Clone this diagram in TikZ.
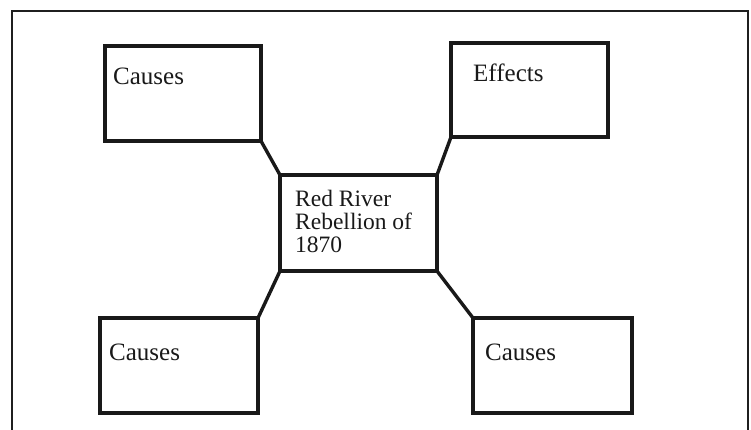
\documentclass[tikz,border=0pt]{standalone}
\usepackage{fontspec}
\setmainfont{Liberation Serif}
\begin{document}
\begin{tikzpicture}[x=1pt,y=-1pt,
  frame/.style={draw=black!88,line width=2.4pt},
  box/.style={draw=black!90,line width=4pt,rectangle,inner sep=0pt,outer sep=0pt,anchor=north west},
  link/.style={draw=black!90,line width=3.4pt},
  lbl/.style={inner sep=0pt,anchor=base west,text=black!90,font=\fontsize{25}{25}\selectfont},
  clbl/.style={inner sep=0pt,anchor=north west,text=black!90,align=left,font=\fontsize{23.5}{23}\selectfont}]
\useasboundingbox (0,0) rectangle (751,429);
% open frame around the page
\coordinate (fbl) at (12,432);
\coordinate (ftl) at (12,11);
\coordinate (ftr) at (748,11);
\coordinate (fbr) at (748,432);
\draw[frame] (fbl) -- (ftl) -- (ftr) -- (fbr);
% boxes
\node[box,minimum width=156,minimum height=95] (tl) at (105,46) {};
\node[box,minimum width=157,minimum height=94] (tr) at (451,43) {};
\node[box,minimum width=157,minimum height=96] (c) at (280,175) {};
\node[box,minimum width=158,minimum height=95] (bl) at (100,318) {};
\node[box,minimum width=159,minimum height=95] (br) at (473,318) {};
% labels
\node[lbl] (tlt) at (113,84) {Causes};
\node[lbl] (trt) at (473,81) {Effects};
\node[clbl] (ct) at (295,190) {Red River\\Rebellion of\\1870};
\node[lbl] (blt) at (109,360) {Causes};
\node[lbl] (brt) at (485,360) {Causes};
% connectors
\draw[link] (tl.south east) -- (c.north west);
\draw[link] (tr.south west) -- (c.north east);
\draw[link] (c.south west) -- (bl.north east);
\draw[link] (c.south east) -- (br.north west);
\end{tikzpicture}
\end{document}
